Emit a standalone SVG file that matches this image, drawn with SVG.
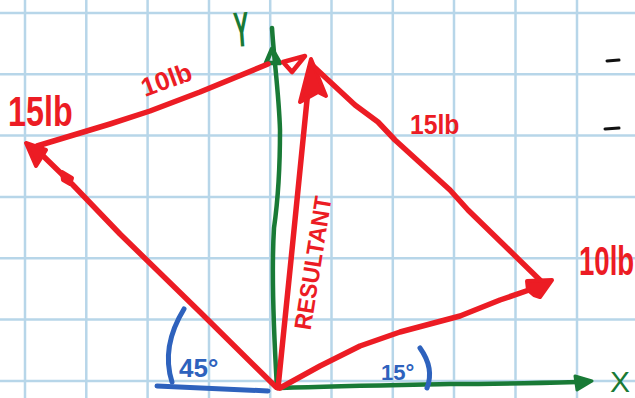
<svg xmlns="http://www.w3.org/2000/svg" width="635" height="398" viewBox="0 0 635 398">
<style>
.grid line{stroke:#b7d6e9;stroke-width:2.5}
.red{fill:none;stroke:#ec1c24;stroke-width:5.5;stroke-linecap:round;stroke-linejoin:round}
.redf{fill:#ec1c24;stroke:#ec1c24;stroke-width:4;stroke-linejoin:round}
.green{fill:none;stroke:#197a36;stroke-width:4.5;stroke-linecap:round;stroke-linejoin:round}
.greenf{fill:#197a36;stroke:#197a36;stroke-width:3;stroke-linejoin:round}
.blue{fill:none;stroke:#2e62bd;stroke-width:5;stroke-linecap:round}
.lbl{font-family:"Liberation Sans",Arial,sans-serif;fill:#ec1c24;font-weight:bold}
.blbl{font-family:"Liberation Sans",Arial,sans-serif;fill:#2e62bd;font-weight:bold}
</style>
<rect width="635" height="398" fill="#ffffff"/>
<g id="grid" class="grid">
<line x1="25" y1="0" x2="25" y2="398"/><line x1="86.3" y1="0" x2="86.3" y2="398"/><line x1="147.6" y1="0" x2="147.6" y2="398"/><line x1="209" y1="0" x2="209" y2="398"/><line x1="270.2" y1="0" x2="270.2" y2="398"/><line x1="331.5" y1="0" x2="331.5" y2="398"/><line x1="392.8" y1="0" x2="392.8" y2="398"/><line x1="454" y1="0" x2="454" y2="398"/><line x1="515.5" y1="0" x2="515.5" y2="398"/><line x1="577" y1="0" x2="577" y2="398"/>
<line x1="0" y1="13" x2="635" y2="13"/><line x1="0" y1="74.3" x2="635" y2="74.3"/><line x1="0" y1="135.6" x2="635" y2="135.6"/><line x1="0" y1="197" x2="635" y2="197"/><line x1="0" y1="258.3" x2="635" y2="258.3"/><line x1="0" y1="319.6" x2="635" y2="319.6"/><line x1="0" y1="381" x2="635" y2="381"/>
</g>
<g id="axes">
<path class="green" d="M277,388 C273,320 272,260 274,228 C278,200 280,170 280,130 C279,95 274,60 272,28"/>
<path class="green" d="M266,63 L272,49 L280,63 Z"/>
<text font-family="Liberation Sans,Arial,sans-serif" font-size="38" font-weight="bold" fill="#197a36" transform="translate(235 47) rotate(-4) scale(0.6 1.3)">Y</text>
<path class="green" d="M280,388 C340,386 400,385 450,384 C500,384 540,383 578,382"/>
<path class="greenf" d="M575,376 L592,381 L577,390 Z"/>
<text x="610" y="392" font-family="Liberation Sans,Arial,sans-serif" font-size="30" fill="#197a36">X</text>
</g>
<g id="vectors">
<path class="red" d="M276,387 L200,312 L120,234 L72,184 L36,149"/>
<path class="redf" d="M26,143 L46,150 L36,166 Z"/>
<path class="redf" d="M62,172 L72,178 L70,184 L63,180 Z"/>
<path class="red" d="M37,146 L110,124 L150,111 L200,92 L268,64"/>
<path class="red" d="M283,62 L305,56 L292,72 Z" style="stroke-width:4.5"/>
<path class="red" d="M278,388 L292,250 L304,130 L310,70"/>
<path class="redf" d="M311,59 L326,96 L318,92 L300,102 Z"/>
<path class="red" d="M313,66 L355,105 L378,122 L395,140 L450,190 L468,210 L544,284"/>
<path class="red" d="M280,388 L320,366 L360,346 L400,332 L460,316 L500,300 L532,289"/>
<path class="redf" d="M552,280 L540,297 L534,295 L528,290 L527,281 Z"/>
</g>
<g id="labels">
<text class="lbl" font-size="34" transform="translate(8 126) scale(0.95 1.25)">15lb</text>
<text class="lbl" font-size="26" transform="translate(145 97) rotate(-20)">10lb</text>
<text class="lbl" font-size="26" transform="translate(410 134) scale(0.95 1.05)">15lb</text>
<text class="lbl" font-size="30" transform="translate(579 275) scale(0.92 1.35)">10lb</text>
<text class="lbl" font-size="24" text-anchor="middle" dominant-baseline="central" transform="translate(313 263) rotate(-81) scale(0.95 1)">RESULTANT</text>
</g>
<g id="angles">
<path class="blue" d="M184,309 C168,335 165,360 172,382"/>
<path class="blue" d="M420,348 C430,362 432,375 427,388"/>
<path class="blue" d="M157,386 L268,391"/>
<text class="blbl" font-size="26" x="179" y="377">45°</text>
<text class="blbl" font-size="22" x="381" y="380">15°</text>
</g>
<g id="marks" stroke="#111" stroke-width="3" stroke-linecap="round">
<path d="M607,61 L619,60"/>
<path d="M605,129 L619,128"/>
</g>
</svg>
